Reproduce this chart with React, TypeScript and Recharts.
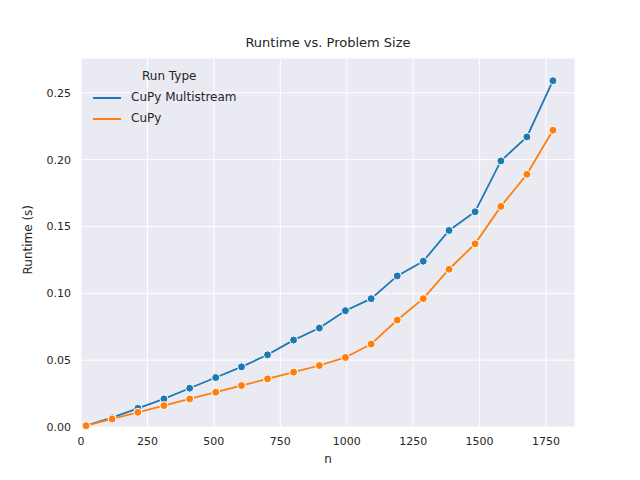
import React from "react";
import { LineChart, Line, XAxis, YAxis, CartesianGrid } from "recharts";

const nValues = [19, 117, 214, 312, 409, 507, 604, 702, 800, 897, 995, 1092, 1190, 1288, 1385, 1483, 1580, 1678, 1776];
const multistream = [0.001, 0.007, 0.014, 0.021, 0.029, 0.037, 0.045, 0.054, 0.065, 0.074, 0.087, 0.096, 0.113, 0.124, 0.147, 0.161, 0.199, 0.217, 0.259];
const cupy = [0.001, 0.006, 0.011, 0.016, 0.021, 0.026, 0.031, 0.036, 0.041, 0.046, 0.052, 0.062, 0.080, 0.096, 0.118, 0.137, 0.165, 0.189, 0.222];
const xTicks = [0, 250, 500, 750, 1000, 1250, 1500, 1750];
const yTicks = [0, 0.05, 0.1, 0.15, 0.2, 0.25];

const data = nValues.map((n, i) => ({ n, ms: multistream[i], cp: cupy[i] }));
const BLUE = "#1f77b4";
const ORANGE = "#ff7f0e";
const font = "DejaVu Sans";
const tickStyle = { fontSize: 11, fill: "#262626", fontFamily: font };

export default function App() {
  return (
    <div style={{ position: "absolute", left: 0, top: 0, width: 640, height: 480, background: "#fff", fontFamily: font }}>
      <div style={{ position: "absolute", top: 35, width: 494, left: 81, textAlign: "center", fontSize: 13, color: "#262626" }}>
        Runtime vs. Problem Size
      </div>
      <LineChart width={640} height={480} data={data} margin={{ top: 58, right: 65, bottom: 0, left: 0 }}>
        <CartesianGrid stroke="#ffffff" strokeWidth={1} vertical horizontal fill="#EAEAF2" fillOpacity={1} />
        <XAxis dataKey="n" type="number" domain={[0, 1859]} ticks={xTicks} height={53}
          axisLine={false} tickLine={false} tick={tickStyle} tickMargin={4}
          label={{ value: "n", position: "insideBottom", offset: 17, style: { fontSize: 12, fill: "#262626", fontFamily: font } }} />
        <YAxis type="number" domain={[0, 0.276]} ticks={yTicks} width={81} axisLine={false} tickLine={false}
          tick={tickStyle} tickMargin={4} tickFormatter={(v: number) => v.toFixed(2)}
          label={{ value: "Runtime (s)", angle: -90, position: "insideLeft", offset: 28, dy: 32, style: { fontSize: 12, fill: "#262626", fontFamily: font } }} />
        <Line dataKey="ms" stroke={BLUE} strokeWidth={1.8} isAnimationActive={false}
          dot={{ r: 4, fill: BLUE, stroke: "#fff", strokeWidth: 1 }} />
        <Line dataKey="cp" stroke={ORANGE} strokeWidth={1.8} isAnimationActive={false}
          dot={{ r: 4, fill: ORANGE, stroke: "#fff", strokeWidth: 1 }} />
      </LineChart>
      <div style={{ position: "absolute", left: 88, top: 66, fontSize: 12, color: "#262626", lineHeight: "21px" }}>
        <div style={{ paddingLeft: 54 }}>Run Type</div>
        <div style={{ display: "flex", alignItems: "center" }}>
          <span style={{ display: "inline-block", width: 28, height: 2, background: BLUE, margin: "0 10px 0 5px" }} />CuPy Multistream
        </div>
        <div style={{ display: "flex", alignItems: "center" }}>
          <span style={{ display: "inline-block", width: 28, height: 2, background: ORANGE, margin: "0 10px 0 5px" }} />CuPy
        </div>
      </div>
    </div>
  );
}
